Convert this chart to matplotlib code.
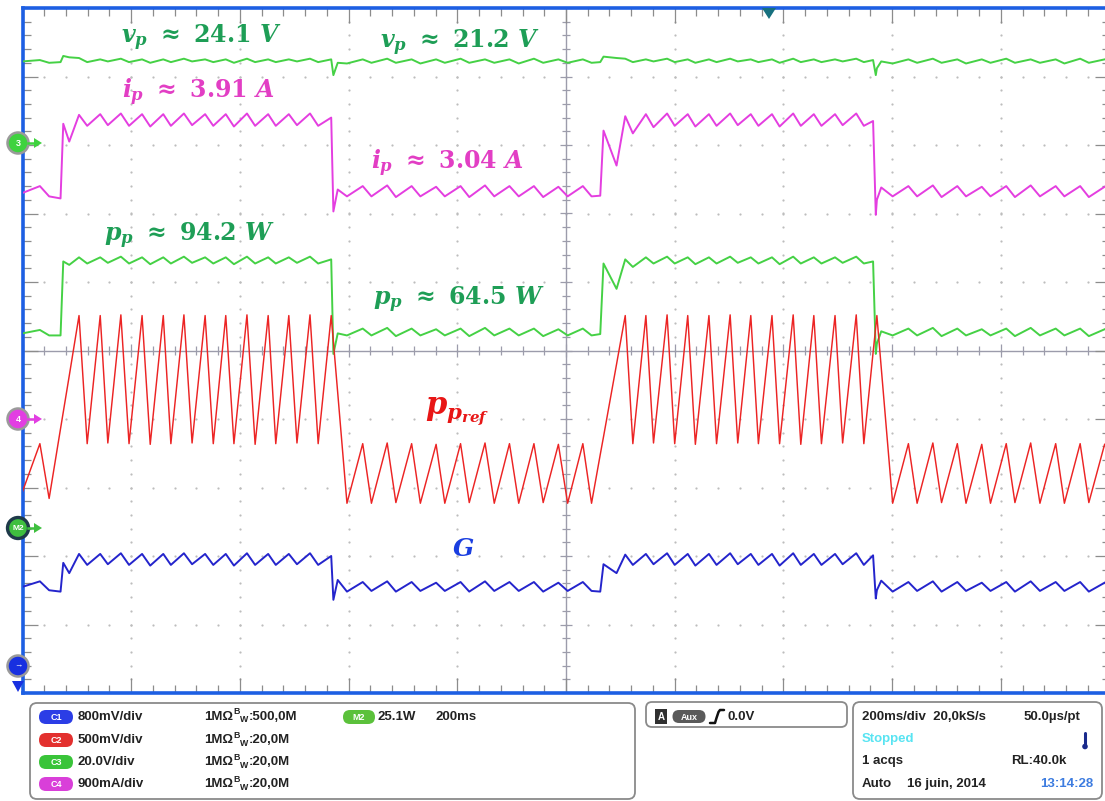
import matplotlib
matplotlib.use('Agg')
import matplotlib.pyplot as plt
import numpy as np
from matplotlib.patches import FancyBboxPatch, Circle, Polygon
from matplotlib.collections import LineCollection

plt.rcParams['font.family'] = ['Liberation Sans', 'DejaVu Sans']
plt.rcParams['mathtext.fontset'] = 'custom'
plt.rcParams['mathtext.it'] = 'DejaVu Serif:italic:bold'
plt.rcParams['mathtext.rm'] = 'DejaVu Serif:bold'
plt.rcParams['mathtext.bf'] = 'DejaVu Serif:bold'
plt.rcParams['mathtext.fallback'] = 'stix'

# ---------------- data (time in ms, 200 ms/div ; values in screen divisions) -------------
t_ms = [0, 32, 49, 70, 75, 86, 104,
        119, 143, 157, 181, 196, 220, 235, 259, 273, 297, 312, 336, 351, 374, 389, 413,
        428, 452, 466, 490, 505, 529, 544, 568,
        572, 580, 597,
        626, 642, 671, 687, 716, 732, 761, 777, 806, 822, 851, 868, 896, 913, 941, 958,
        986, 1003, 1031, 1047,
        1063, 1069, 1093, 1109,
        1123, 1147, 1161, 1186, 1200, 1224, 1238, 1263, 1277, 1302, 1316, 1340, 1354, 1379,
        1393, 1418, 1432, 1456, 1470, 1495, 1509, 1534, 1548,
        1565, 1570, 1572, 1580, 1601,
        1630, 1646, 1675, 1691, 1720, 1736, 1765, 1781, 1810, 1826, 1855, 1872, 1901, 1917,
        1946, 1962, 1991]

p_pref = [-2.06, -1.36, -2.16, -1.14, -0.90, -0.37, 0.51,
          -1.36, 0.51, -1.35, 0.52, -1.36, 0.51, -1.37, 0.51, -1.36, 0.52, -1.35, 0.51, -1.36, 0.51, -1.36, 0.52,
          -1.37, 0.51, -1.36, 0.51, -1.35, 0.52, -1.36, 0.51,
          0.13, -0.62, -2.23,
          -1.36, -2.23, -1.35, -2.22, -1.36, -2.23, -1.37, -2.23, -1.36, -2.22, -1.35, -2.23, -1.36, -2.23, -1.36, -2.22,
          -1.37, -2.23, -1.36, -2.23,
          -1.52, -1.26, -0.20, 0.51,
          -1.36, 0.51, -1.35, 0.52, -1.36, 0.51, -1.37, 0.51, -1.36, 0.52, -1.35, 0.51, -1.36, 0.51,
          -1.36, 0.52, -1.37, 0.51, -1.36, 0.51, -1.35, 0.52, -1.36,
          -0.03, 0.35, 0.51, -0.25, -2.23,
          -1.36, -2.23, -1.35, -2.22, -1.36, -2.23, -1.37, -2.23, -1.36, -2.22, -1.35, -2.23, -1.36, -2.23,
          -1.36, -2.22, -1.37]

i_p = [2.30, 2.40, 2.25, 2.22, 3.31, 3.05, 3.44,
       3.28, 3.45, 3.29, 3.46, 3.28, 3.45, 3.27, 3.45, 3.28, 3.46, 3.29, 3.45, 3.28, 3.45, 3.27, 3.46,
       3.28, 3.45, 3.28, 3.45, 3.29, 3.46, 3.28, 3.40,
       2.03, 2.35, 2.25,
       2.40, 2.25, 2.41, 2.24, 2.40, 2.25, 2.39, 2.25, 2.40, 2.24, 2.41, 2.25, 2.40, 2.25, 2.40, 2.24,
       2.39, 2.25, 2.40, 2.25,
       2.26, 3.21, 2.70, 3.42,
       3.17, 3.45, 3.26, 3.46, 3.28, 3.45, 3.27, 3.45, 3.28, 3.46, 3.29, 3.45, 3.28, 3.45,
       3.27, 3.46, 3.28, 3.45, 3.28, 3.45, 3.29, 3.46, 3.28,
       3.35, 1.98, 2.20, 2.38, 2.25,
       2.40, 2.25, 2.41, 2.24, 2.40, 2.25, 2.39, 2.25, 2.40, 2.24, 2.41, 2.25, 2.40, 2.25,
       2.40, 2.24, 2.39]

v_p = [4.22, 4.24, 4.20, 4.21, 4.30, 4.28, 4.27,
       4.21, 4.25, 4.22, 4.26, 4.21, 4.25, 4.20, 4.25, 4.21, 4.26, 4.22, 4.25, 4.21, 4.25, 4.20, 4.26,
       4.21, 4.25, 4.21, 4.25, 4.22, 4.26, 4.21, 4.25,
       4.02, 4.20, 4.19,
       4.25, 4.20, 4.26, 4.20, 4.25, 4.19, 4.25, 4.20, 4.26, 4.20, 4.25, 4.20, 4.25, 4.19, 4.26, 4.20,
       4.25, 4.20, 4.25, 4.20,
       4.21, 4.29, 4.27, 4.26,
       4.21, 4.25, 4.22, 4.26, 4.21, 4.25, 4.20, 4.25, 4.21, 4.26, 4.22, 4.25, 4.21, 4.25,
       4.20, 4.26, 4.21, 4.25, 4.21, 4.25, 4.22, 4.26, 4.21,
       4.24, 4.02, 4.12, 4.22, 4.19,
       4.25, 4.20, 4.26, 4.20, 4.25, 4.19, 4.25, 4.20, 4.26, 4.20, 4.25, 4.20, 4.25, 4.19,
       4.26, 4.20, 4.25]

p_p = [0.25, 0.30, 0.22, 0.22, 1.30, 1.25, 1.36,
       1.27, 1.36, 1.28, 1.37, 1.27, 1.36, 1.26, 1.36, 1.27, 1.37, 1.28, 1.36, 1.27, 1.36, 1.26, 1.37,
       1.27, 1.36, 1.27, 1.36, 1.28, 1.37, 1.27, 1.33,
       -0.05, 0.25, 0.22,
       0.32, 0.22, 0.33, 0.21, 0.32, 0.22, 0.31, 0.22, 0.32, 0.21, 0.33, 0.22, 0.32, 0.22, 0.32, 0.21,
       0.31, 0.22, 0.32, 0.22,
       0.24, 1.27, 0.90, 1.33,
       1.22, 1.36, 1.27, 1.37, 1.27, 1.36, 1.26, 1.36, 1.27, 1.37, 1.28, 1.36, 1.27, 1.36,
       1.26, 1.37, 1.27, 1.36, 1.27, 1.36, 1.28, 1.37, 1.27,
       1.30, -0.05, 0.10, 0.28, 0.22,
       0.32, 0.22, 0.33, 0.21, 0.32, 0.22, 0.31, 0.22, 0.32, 0.21, 0.33, 0.22, 0.32, 0.22,
       0.32, 0.21, 0.31]

G = [-3.45, -3.37, -3.50, -3.52, -3.10, -3.25, -2.97,
     -3.13, -2.97, -3.12, -2.96, -3.13, -2.97, -3.14, -2.97, -3.13, -2.96, -3.12, -2.97, -3.13, -2.97, -3.14, -2.96,
     -3.13, -2.97, -3.13, -2.97, -3.12, -2.96, -3.13, -3.00,
     -3.64, -3.35, -3.52,
     -3.38, -3.51, -3.37, -3.52, -3.38, -3.51, -3.39, -3.51, -3.38, -3.52, -3.37, -3.51, -3.38, -3.51, -3.38, -3.52,
     -3.39, -3.51, -3.38, -3.51,
     -3.52, -3.12, -3.25, -2.98,
     -3.13, -2.97, -3.12, -2.96, -3.13, -2.97, -3.14, -2.97, -3.13, -2.96, -3.12, -2.97, -3.13, -2.97,
     -3.14, -2.96, -3.13, -2.97, -3.13, -2.97, -3.12, -2.96, -3.13,
     -2.99, -3.62, -3.50, -3.36, -3.52,
     -3.38, -3.51, -3.37, -3.52, -3.38, -3.51, -3.39, -3.51, -3.38, -3.52, -3.37, -3.51, -3.38, -3.51,
     -3.38, -3.52, -3.39]

labels_ch = ['C1', 'C2', 'C3', 'C4']
labels_scale = ['800mV/div', '500mV/div', '20.0V/div', '900mA/div']
labels_bw = [':500,0M', ':20,0M', ':20,0M', ':20,0M']

# ---------------- figure ----------------
W, H = 1105, 801
fig = plt.figure(figsize=(W / 100, H / 100), dpi=100)
fig.patch.set_facecolor('white')

L, R, T, B = 22.5, 1109.5, 8, 693
ax = fig.add_axes([L / W, 1 - B / H, (R - L) / W, (B - T) / H])
ax.set_xlim(0, 2000)
ax.set_ylim(-5, 5)
ax.set_facecolor('white')

BLUE_FRAME = '#1d5fe3'
for s in ['left', 'top', 'bottom']:
    ax.spines[s].set_color(BLUE_FRAME)
    ax.spines[s].set_linewidth(2.6)
ax.spines['right'].set_visible(False)

ax.set_xticks(np.arange(0, 2001, 200))
ax.set_xticks(np.arange(0, 2001, 40), minor=True)
ax.set_yticks(np.arange(-5, 5.01, 1))
ax.set_yticks(np.arange(-5, 5.01, 0.2), minor=True)
ax.tick_params(which='both', direction='in', top=True, bottom=True, left=True, right=True,
               labelleft=False, labelbottom=False, color='#8c8c8c', width=0.9)
ax.tick_params(which='major', length=10.5)
ax.tick_params(which='minor', length=6)

# dotted graticule
GRID_C = '#bdbdbd'
sub_y = np.arange(-5, 5.001, 0.2)
sub_x = np.arange(0, 2000.1, 40)
for gx in [200, 400, 600, 800, 1200, 1400, 1600, 1800]:
    ax.plot(np.full(len(sub_y), gx), sub_y, ls='none', marker='o', ms=1.6, mew=0, color=GRID_C, zorder=1)
for gy in [-4, -3, -2, -1, 1, 2, 3, 4]:
    ax.plot(sub_x, np.full(len(sub_x), gy), ls='none', marker='o', ms=1.6, mew=0, color=GRID_C, zorder=1)

# centre cross with ticks
CROSS_C = '#9c9cab'
ax.axvline(1000, color=CROSS_C, lw=1.0, zorder=1)
ax.axhline(0, color=CROSS_C, lw=1.0, zorder=1)
segs = []
for x in sub_x:
    h = 0.10 if abs(x % 200) < 1e-6 else 0.06
    segs.append([(x, -h), (x, h)])
for y in sub_y:
    w = 11 if abs(round(y) - y) < 1e-6 else 7
    segs.append([(1000 - w, y), (1000 + w, y)])
ax.add_collection(LineCollection(segs, colors=CROSS_C, linewidths=0.9, zorder=1))

# traces
ax.plot(t_ms, v_p, color='#45d145', lw=1.4, zorder=3)
ax.plot(t_ms, i_p, color='#e43ee0', lw=1.4, zorder=3)
ax.plot(t_ms, p_p, color='#45d145', lw=1.4, zorder=3)
ax.plot(t_ms, p_pref, color='#ec2424', lw=1.05, zorder=3)
ax.plot(t_ms, G, color='#2424cc', lw=1.4, zorder=3)

# annotations (pixel positions -> figure fraction)
def ftext(px, py, s, color, size=17, **kw):
    fig.text(px / W, 1 - py / H, s, color=color, fontsize=size, ha='center', va='center', **kw)

GREEN_T = '#1e9e56'
MAG_T = '#e23ec4'
ftext(201, 38, r'$v_p\ \approx\ 24.1\ V$', GREEN_T)
ftext(460, 43, r'$v_p\ \approx\ 21.2\ V$', GREEN_T)
ftext(198, 92, r'$i_p\ \approx\ 3.91\ A$', MAG_T)
ftext(447, 163, r'$i_p\ \approx\ 3.04\ A$', MAG_T)
ftext(189, 236, r'$p_p\ \approx\ 94.2\ W$', GREEN_T)
ftext(459, 300, r'$p_p\ \approx\ 64.5\ W$', GREEN_T)
ftext(457, 412, r'$p_{p_{ref}}$', '#e81616', size=22)
ftext(463, 549, r'$G$', '#1a3ee0', size=18)

# ---------------- overlay (instrument UI) ----------------
ov = fig.add_axes([0, 0, 1, 1], zorder=5)
ov.set_xlim(0, W)
ov.set_ylim(H, 0)
ov.axis('off')
ov.patch.set_alpha(0)

def marker(cx, cy, fc, label, ec='#9a9a9a', elw=1.8, arrow=True, lc='white', fs=6.5):
    ov.add_patch(Circle((cx, cy), 10.5, fc=fc, ec=ec, lw=elw, zorder=6))
    ov.text(cx, cy, label, color=lc, fontsize=fs, ha='center', va='center', zorder=7, fontweight='bold')
    if arrow:
        ov.plot([cx + 10, cx + 17], [cy, cy], color=fc, lw=1.8, zorder=6)
        ov.add_patch(Polygon([(cx + 16, cy - 5), (cx + 16, cy + 5), (cx + 24, cy)], closed=True, fc=fc, ec='none', zorder=6))

marker(18, 143, '#3fd23f', '3')
marker(18, 419, '#e23ee2', '4')
marker(18, 528, '#3fbf3f', 'M2', ec='#1f3a4a', elw=2.4, fs=6)
marker(18, 666, '#1830e0', '\u2192', arrow=False, fs=6)
ov.add_patch(Polygon([(12, 681), (24, 681), (18, 692)], closed=True, fc='#1830e0', ec='none', zorder=6))
# trigger marker
ov.add_patch(Polygon([(762, 8), (776, 8), (769, 19)], closed=True, fc='#17707e', ec='none', zorder=6))

# panels
BOX_EC = '#8a8a8a'
ov.add_patch(FancyBboxPatch((30, 703), 605, 96, boxstyle='round,pad=0,rounding_size=7',
                            fc='white', ec=BOX_EC, lw=1.3))
ov.add_patch(FancyBboxPatch((646, 702), 201, 25, boxstyle='round,pad=0,rounding_size=6',
                            fc='white', ec=BOX_EC, lw=1.3))
ov.add_patch(FancyBboxPatch((853, 702), 249, 97, boxstyle='round,pad=0,rounding_size=7',
                            fc='white', ec=BOX_EC, lw=1.3))

def pill(cx, cy, w, h, fc, label, fs=6.5):
    ov.add_patch(FancyBboxPatch((cx - w / 2, cy - h / 2), w, h,
                                boxstyle='round,pad=0,rounding_size=%g' % (h / 2), fc=fc, ec='none'))
    ov.text(cx, cy + 0.5, label, color='white', fontsize=fs, ha='center', va='center', fontweight='bold')

TXT = dict(fontsize=9.5, fontweight='bold', color='#222222', va='center')
rows = [717, 740, 762, 784]
pill_c = ['#2b3de6', '#e3302e', '#39c439', '#d93fd9']
for i in range(4):
    y = rows[i]
    pill(56, y, 34, 14, pill_c[i], labels_ch[i])
    ov.text(78, y, labels_scale[i], **TXT)
    ov.text(204, y, '1M\u03a9', **TXT)
    ov.text(233, y - 5, 'B', fontsize=6.3, fontweight='bold', color='#222222', va='center')
    ov.text(240, y + 3, 'W', fontsize=6.3, fontweight='bold', color='#222222', va='center')
    ov.text(249, y, labels_bw[i], **TXT)
pill(359, 717, 32, 14, '#5bc13b', 'M2')
ov.text(378, 717, '25.1W', **TXT)
ov.text(436, 717, '200ms', **TXT)

# trigger box
ov.add_patch(FancyBboxPatch((655, 709), 12, 15, boxstyle='square,pad=0', fc='#303030', ec='none'))
ov.text(661, 716.5, 'A', color='white', fontsize=7, fontweight='bold', ha='center', va='center')
pill(689, 716.5, 33, 13, '#5a5a5a', 'Aux', fs=6.5)
ov.plot([710, 715, 716.5, 718.5, 720, 724], [723, 723, 718, 712, 710, 710], color='#111111', lw=1.8,
        solid_capstyle='round')
ov.text(728, 716.5, '0.0V', **TXT)

# timebase box
ov.text(862, 717, '200ms/div  20,0kS/s', **TXT)
ov.text(1080, 717, '50.0\u00b5s/pt', ha='right', fontsize=9.5, fontweight='bold', color='#222222', va='center')
ov.text(862, 739, 'Stopped', fontsize=9.5, fontweight='bold', color='#58e4f2', va='center')
ov.plot([1085, 1085], [733, 745], color='#1a2a8c', lw=2.2, solid_capstyle='round')
ov.add_patch(Circle((1085, 746.5), 2.8, fc='#1a2a8c', ec='none'))
ov.text(862, 761, '1 acqs', **TXT)
ov.text(1067, 761, 'RL:40.0k', ha='right', fontsize=9.5, fontweight='bold', color='#222222', va='center')
ov.text(862, 784, 'Auto', **TXT)
ov.text(907, 784, '16 juin, 2014', **TXT)
ov.text(1093, 784, '13:14:28', ha='right', fontsize=9.5, fontweight='bold', color='#3d7ce0', va='center')

fig.savefig('out.png', dpi=100)
